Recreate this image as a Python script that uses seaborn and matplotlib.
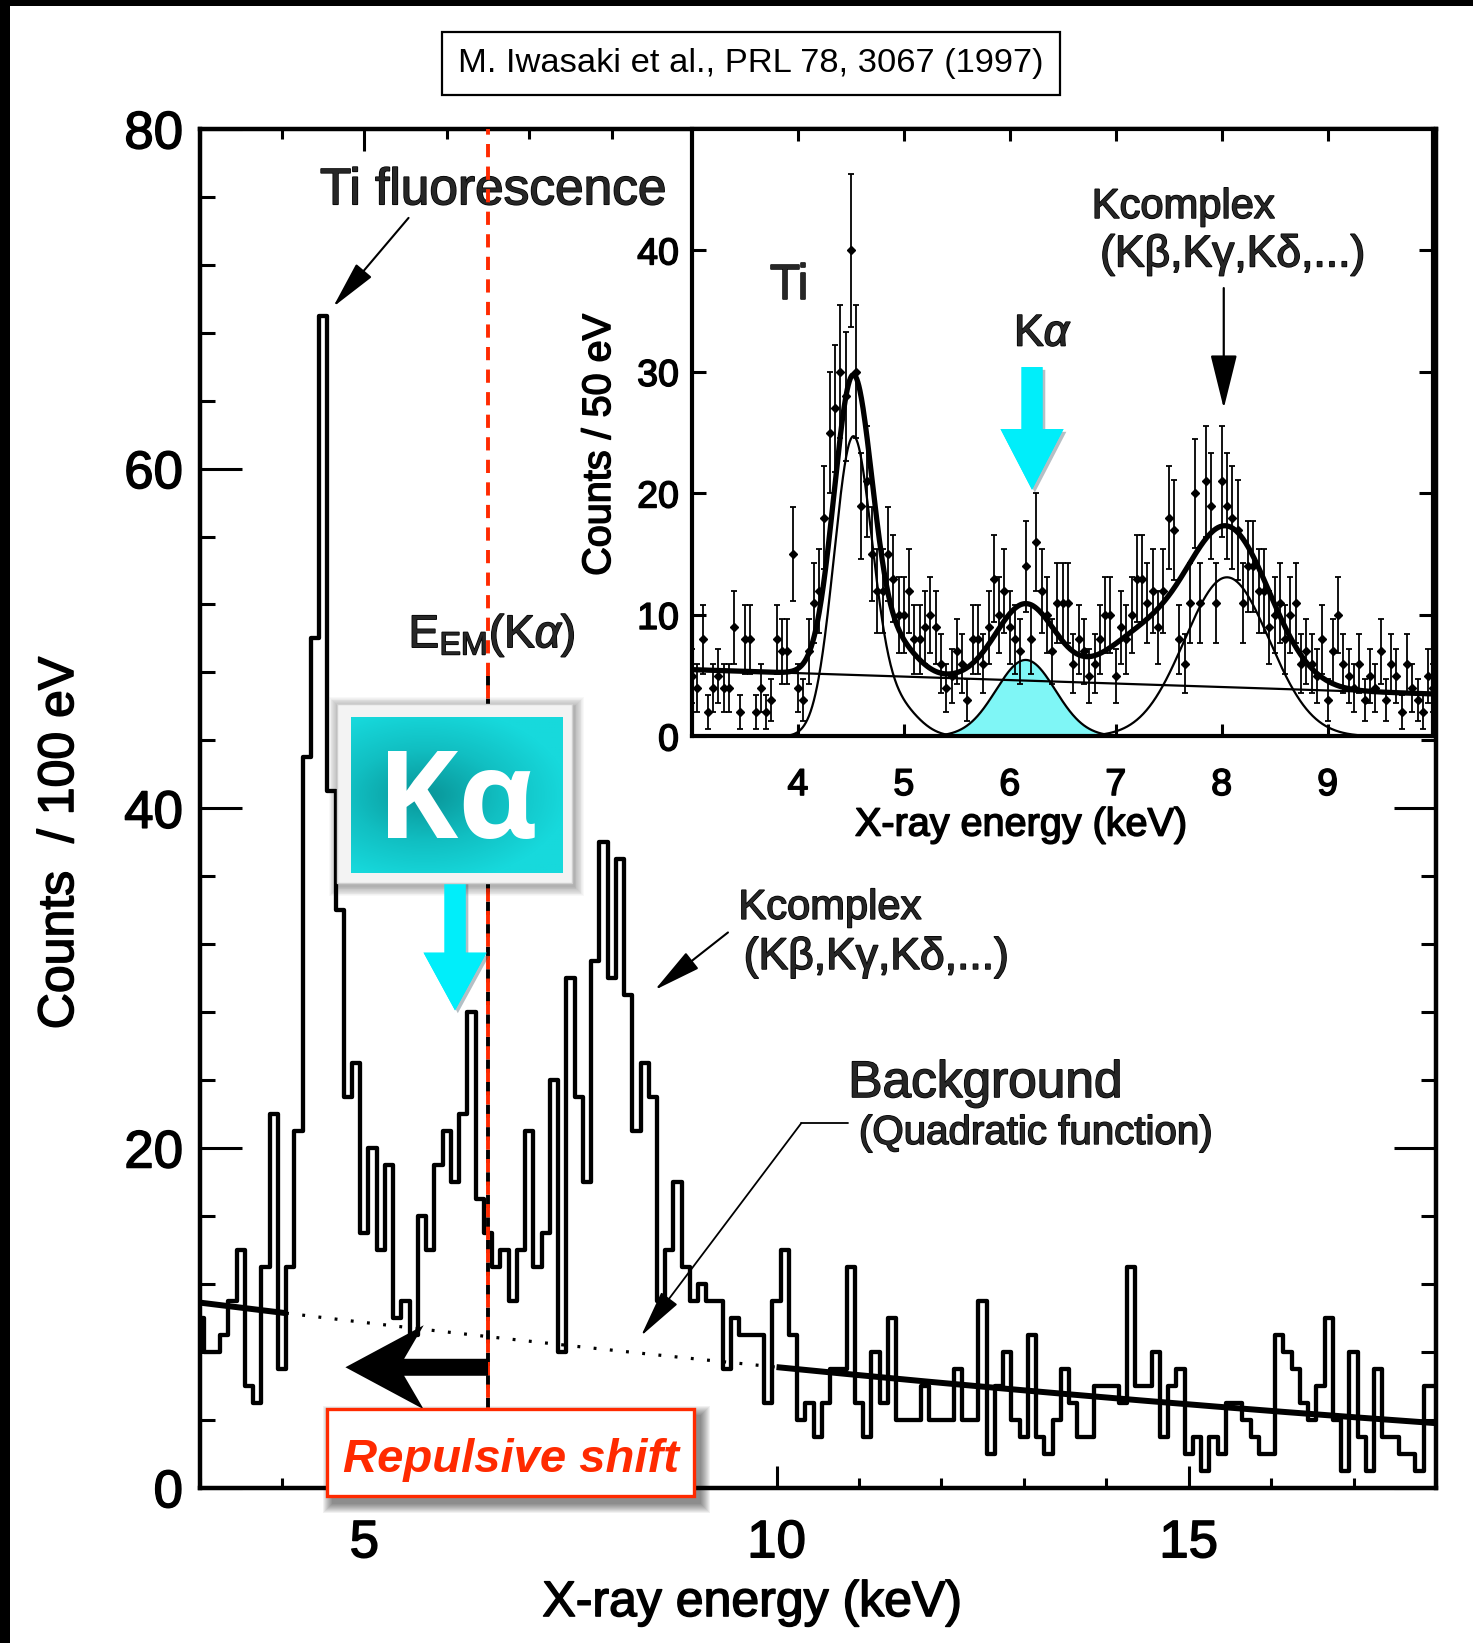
import numpy as np
import pandas as pd
import matplotlib
matplotlib.use("Agg")
import matplotlib.pyplot as plt
import seaborn as sns
from matplotlib.patches import Rectangle, FancyArrow
from matplotlib.colors import LinearSegmentedColormap
import matplotlib.patheffects as pe

# ------------------------------------------------------------------ data
# main spectrum: counts / 100 eV, bins centred on 3.0, 3.1, ... 18.0 keV
main_first_keV = 3.0
main_bin_keV = 0.1
main_counts = [
    10, 8, 8, 9, 11, 14, 6, 5, 13, 22,
    7, 13, 21, 43, 50, 69, 41, 34, 23, 25,
    15, 20, 14, 19, 10, 11, 9, 16, 14, 19,
    21, 18, 22, 28, 17, 15, 13, 14, 11, 14,
    21, 13, 15, 24, 8, 30, 23, 18, 31, 38,
    30, 37, 29, 21, 25, 23, 11, 14, 18, 13,
    11, 12, 11, 11, 7, 10, 9, 9, 9, 5,
    11, 14, 9, 4, 5, 3, 5, 7, 7, 13,
    5, 3, 8, 5, 10, 4, 4, 4, 6, 4,
    4, 4, 7, 4, 4, 11, 2, 6, 8, 4,
    3, 9, 3, 2, 4, 7, 5, 3, 3, 6,
    6, 6, 5, 13, 6, 6, 8, 3, 6, 7,
    2, 3, 1, 3, 2, 5, 5, 4, 3, 2,
    2, 9, 8, 7, 5, 4, 6, 10, 4, 1,
    8, 3, 1, 7, 3, 3, 2, 2, 1, 6,
    6,
]

# quadratic background of the main spectrum
bg_points_keV = [3.0, 10.0, 18.0]
bg_points_counts = [10.9, 7.1, 3.8]
bg_solid_ranges = [(3.0, 4.05), (10.0, 18.0)]
bg_dotted_range = (4.05, 10.0)

E_EM_keV = 6.5

# inset: counts / 50 eV, points at 3.00, 3.05, ... 10.00 keV
inset_first_keV = 3.0
inset_bin_keV = 0.05
inset_counts = [
    5, 4, 8, 2, 4, 5, 4, 4, 9, 2,
    8, 8, 2, 4, 2, 3, 8, 7, 7, 15,
    4, 3, 7, 11, 12, 18, 25, 27, 30, 28,
    40, 30, 19, 21, 15, 12, 12, 15, 13, 10,
    10, 12, 8, 8, 9, 10, 9, 6, 4, 5,
    7, 6, 3, 8, 8, 6, 9, 13, 10, 12,
    9, 8, 7, 14, 8, 16, 12, 10, 7, 11,
    11, 11, 6, 8, 7, 5, 6, 8, 10, 10,
    5, 9, 8, 10, 13, 13, 11, 12, 9, 12,
    18, 17, 8, 6, 11, 20, 11, 21, 19, 11,
    21, 19, 18, 17, 11, 14, 14, 12, 12, 9,
    10, 11, 8, 10, 11, 6, 7, 6, 5, 8,
    3, 7, 10, 6, 5, 4, 6, 3, 5, 4,
    7, 3, 6, 5, 2, 6, 4, 3, 2, 5,
    4,
]

# inset fit: linear background + gaussian lines (centre keV, height, sigma keV)
inset_bg_keV = [3.0, 10.0]
inset_bg_counts = [5.5, 3.5]
line_names = ["Ti", "Ti tail", "K alpha", "K shoulder", "K complex"]
line_centres = [4.52, 4.93, 6.15, 7.20, 8.05]
line_heights = [24.4, 2.5, 6.3, 3.3, 13.1]
line_sigmas = [0.18, 0.20, 0.28, 0.35, 0.40]
# thin component curves drawn in the inset (each a sum of the named lines)
thin_curves = [["Ti", "Ti tail"], ["K alpha"], ["K complex"]]

# ------------------------------------------------------------------ style
sns.set_theme(style="white")
plt.rcParams["font.family"] = ["Liberation Sans", "DejaVu Sans"]
plt.rcParams["mathtext.fontset"] = "custom"
plt.rcParams["mathtext.rm"] = "Liberation Sans"
plt.rcParams["mathtext.it"] = "Liberation Sans:italic"
plt.rcParams["mathtext.bf"] = "Liberation Sans:bold"

RED = "#ff2a00"
CYAN = "#00eefa"
HEAVY = [pe.withStroke(linewidth=1.1, foreground="black")]

fig = plt.figure(figsize=(14.73, 16.43), dpi=100)
fig.patch.set_facecolor("white")

# black frame bands at the left and top of the picture
fig.add_artist(Rectangle((0, 0), 10 / 1473, 1, transform=fig.transFigure,
                         fc="black", ec="none", zorder=0))
fig.add_artist(Rectangle((0, 1 - 6 / 1643), 1, 6 / 1643, transform=fig.transFigure,
                         fc="black", ec="none", zorder=0))

# ------------------------------------------------------------------ main axes
ax = fig.add_axes([0.13544, 0.09452, 0.83944, 0.82703])
ax.set_facecolor("white")

main_keV = main_first_keV + main_bin_keV * np.arange(len(main_counts))
df_main = pd.DataFrame({"energy": main_keV, "counts": main_counts})
sns.lineplot(data=df_main, x="energy", y="counts", drawstyle="steps-mid",
             color="black", lw=3.1, estimator=None, ax=ax, zorder=3, legend=False)

coef = np.polyfit(bg_points_keV, bg_points_counts, 2)
for a, b in bg_solid_ranges:
    xs = np.linspace(a, b, 200)
    ax.plot(xs, np.polyval(coef, xs), color="black", lw=4.3,
            solid_capstyle="butt", zorder=4)
xs = np.linspace(*bg_dotted_range, 300)
ax.plot(xs, np.polyval(coef, xs), color="black", lw=2.3,
        ls=(0, (0.9, 4.2)), zorder=4)

# E_EM line: black dashed (original) + red dashed overlay
ax.plot([E_EM_keV, E_EM_keV], [0, 48], color="black", lw=2.8,
        ls=(3.4, (3.4, 2.4)), zorder=4)
ax.plot([E_EM_keV, E_EM_keV], [0, 80], color=RED, lw=2.8,
        ls=(0, (3.4, 2.4)), zorder=4)

ax.set_xlim(3, 18)
ax.set_ylim(0, 80)
ax.set_xticks([5, 10, 15])
ax.set_xticks(np.arange(3, 19, 1), minor=True)
ax.set_yticks([0, 20, 40, 60, 80])
ax.set_yticks(np.arange(0, 81, 4), minor=True)
ax.tick_params(which="both", direction="in", top=True, right=True,
               bottom=True, left=True, width=2.2, color="black",
               labelcolor="black")
ax.tick_params(axis="x", which="major", length=16, pad=22, labelsize=38)
ax.tick_params(axis="x", which="minor", length=7.5)
ax.tick_params(axis="y", which="major", length=30, pad=12, labelsize=38)
ax.tick_params(axis="y", which="minor", length=11)
for s in ax.spines.values():
    s.set_color("black")
    s.set_linewidth(3.2)
for t in ax.get_xticklabels() + ax.get_yticklabels():
    t.set_path_effects(HEAVY)

ax.set_xlabel("X-ray energy (keV)", fontsize=36, color="black")
ax.xaxis.label.set_verticalalignment("center")
ax.xaxis.set_label_coords(0.447, -0.0849)
ax.set_ylabel("Counts  / 100 eV", fontsize=36, color="black")
ax.yaxis.label.set_verticalalignment("center")
ax.yaxis.set_label_coords(-0.1128, 0.4745)
ax.xaxis.label.set_path_effects(HEAVY)
ax.yaxis.label.set_path_effects(HEAVY)

arrow_kw = dict(arrowstyle="-|>,head_length=1.5,head_width=0.32", lw=1.5,
                color="black", mutation_scale=20, shrinkA=0, shrinkB=0)

# annotations in the main panel
ax.text(4.461, 75.56, "Ti fluorescence", fontsize=37, ha="left", va="baseline",
        path_effects=HEAVY)
ax.annotate("", xy=(4.621, 69.52), xytext=(5.536, 74.76), arrowprops=arrow_kw,
            zorder=6)

ax.text(5.536, 49.47, r"E$_{\mathrm{EM}}$(K$\alpha$)", fontsize=33,
        ha="left", va="baseline", zorder=6, path_effects=HEAVY)

ax.text(9.538, 33.49, "Kcomplex", fontsize=30, ha="left", va="baseline",
        path_effects=HEAVY)
ax.text(9.602, 30.54, "(Kβ,Kγ,Kδ,...)", fontsize=32, ha="left", va="baseline",
        path_effects=HEAVY)
ax.annotate("", xy=(8.522, 29.30), xytext=(9.411, 32.69), arrowprops=arrow_kw,
            zorder=6)

ax.text(10.87, 23.0, "Background", fontsize=37, ha="left", va="baseline",
        path_effects=HEAVY)
ax.text(11.0, 20.24, "(Quadratic function)", fontsize=29, ha="left",
        va="baseline", path_effects=HEAVY)
ax.plot([10.87, 10.30], [21.46, 21.46], color="black", lw=1.3, zorder=6)
ax.annotate("", xy=(8.357, 8.94), xytext=(10.30, 21.46),
            arrowprops=dict(arrow_kw, lw=1.3), zorder=6)


def soft_shadow(axis, x0, y0, x1, y1, sx, sy, ox, oy, n=12, alpha=0.45, z=5):
    for k in range(n):
        f = (k + 1) / n
        axis.add_patch(Rectangle((x0 + ox - sx * f, y0 + oy - sy * f),
                                 (x1 - x0) + 2 * sx * f, (y1 - y0) + 2 * sy * f,
                                 fc="black", ec="none", alpha=alpha / n,
                                 zorder=z, clip_on=False))


PX = 1 / 82.46   # keV per pixel (main)
PY = 1 / 16.985  # counts per pixel (main)

# big K-alpha badge
fx0, fy0, fx1, fy1 = 4.667, 35.60, 7.518, 46.14
soft_shadow(ax, fx0, fy0, fx1, fy1, 10 * PX, 10 * PY, 2 * PX, -3 * PY,
            alpha=0.35, z=6)
ax.add_patch(Rectangle((fx0, fy0), fx1 - fx0, fy1 - fy0, fc="#f3f3f3",
                       ec="#d0d0d0", lw=1.0, zorder=7))
gx, gy = np.meshgrid(np.linspace(0, 1, 220), np.linspace(0, 1, 160))
rr = np.sqrt(((gx - 0.35) / 0.9) ** 2 + ((gy - 0.5) / 0.75) ** 2)
teal = LinearSegmentedColormap.from_list("teal", ["#0a9a9d", "#11bfc2", "#17d9dc"])
ax.imshow(rr, extent=[4.837, 7.408, 36.19, 45.32], origin="lower",
          cmap=teal, vmin=0.05, vmax=0.75, aspect="auto", zorder=8,
          interpolation="bilinear")
ax.text(6.13, 38.24, "Kα", fontsize=88, color="white", fontweight="bold",
        family=["Open Sans", "DejaVu Sans"], ha="center", va="baseline", zorder=9)

# cyan arrow under the badge
arr = FancyArrow(6.10, 36.0, 0, -(36.0 - 28.1), width=0.255, head_width=0.764,
                 head_length=3.4, length_includes_head=True, fc=CYAN, ec="none",
                 zorder=6)
arr.set_path_effects([pe.withSimplePatchShadow(offset=(2, -2), shadow_rgbFace="#2a4a5a",
                                               alpha=0.35), pe.Normal()])
ax.add_patch(arr)

# black "repulsive shift" arrow
ax.add_patch(FancyArrow(E_EM_keV, 7.09, 4.77 - E_EM_keV, 0, width=1.0,
                        head_width=4.95, head_length=0.95, overhang=0.25,
                        length_includes_head=True, fc="black", ec="none", zorder=6))

# "Repulsive shift" box
rx0, ry0, rx1, ry1 = 4.547, -0.49, 9.004, 4.61
soft_shadow(ax, rx0, ry0, rx1, ry1, 10 * PX, 10 * PY, 6 * PX, -7 * PY, n=10,
            alpha=0.55, z=9)
ax.add_patch(Rectangle((rx0, ry0), rx1 - rx0, ry1 - ry0, fc="white", ec=RED,
                       lw=2.4, zorder=10, clip_on=False))
ax.text((rx0 + rx1) / 2, 0.92, "Repulsive shift", fontsize=34, color=RED,
        fontweight="bold", fontstyle="italic", ha="center", va="baseline",
        zorder=11, clip_on=False)

# ------------------------------------------------------------------ inset
ax_in = fig.add_axes([0.46979, 0.55174, 0.50339, 0.36981])
ax_in.set_facecolor("white")

inset_keV = inset_first_keV + inset_bin_keV * np.arange(len(inset_counts))
inset_counts_arr = np.array(inset_counts, dtype=float)

xf = np.linspace(3, 10, 1401)
bg_coef = np.polyfit(inset_bg_keV, inset_bg_counts, 1)
comps = {n: h * np.exp(-0.5 * ((xf - c) / s) ** 2)
         for n, c, h, s in zip(line_names, line_centres, line_heights, line_sigmas)}
total = np.polyval(bg_coef, xf) + sum(comps.values())

ax_in.fill_between(xf, 0, comps["K alpha"], color="#7ff6f6", lw=0, zorder=2)
for group in thin_curves:
    sns.lineplot(x=xf, y=sum(comps[n] for n in group), color="black", lw=1.6,
                 ax=ax_in, estimator=None, zorder=3, legend=False)
ax_in.plot(inset_bg_keV, inset_bg_counts, color="black", lw=1.6, zorder=3)
ax_in.errorbar(inset_keV, inset_counts_arr, yerr=np.sqrt(inset_counts_arr),
               fmt="D", ms=4.4, color="black", ecolor="black", elinewidth=1.3,
               capsize=2.0, capthick=1.3, zorder=4)
sns.lineplot(x=xf, y=total, color="black", lw=3.8, ax=ax_in, estimator=None,
             zorder=5, legend=False)

ax_in.set_xlim(3, 10)
ax_in.set_ylim(0, 50)
ax_in.set_xticks(np.arange(4, 10, 1))
ax_in.set_yticks([0, 10, 20, 30, 40])
ax_in.tick_params(which="both", direction="in", top=True, right=True,
                  bottom=True, left=True, width=2.2, color="black",
                  labelcolor="black", labelsize=27)
ax_in.tick_params(axis="x", length=8.5, pad=22)
ax_in.tick_params(axis="y", length=10, pad=9.4)
for s in ax_in.spines.values():
    s.set_color("black")
    s.set_linewidth(3.0)
for t in ax_in.get_xticklabels() + ax_in.get_yticklabels():
    t.set_path_effects(HEAVY)
ax_in.set_xlabel("X-ray energy (keV)", fontsize=28.5, color="black")
ax_in.xaxis.label.set_verticalalignment("center")
ax_in.xaxis.set_label_coords(0.444, -0.145)
ax_in.set_ylabel("Counts / 50 eV", fontsize=28.5, color="black")
ax_in.yaxis.label.set_verticalalignment("center")
ax_in.yaxis.set_label_coords(-0.1254, 0.48)
ax_in.xaxis.label.set_path_effects(HEAVY)
ax_in.yaxis.label.set_path_effects(HEAVY)

ax_in.text(3.737, 36.04, "Ti", fontsize=35, ha="left", va="baseline",
           path_effects=HEAVY)
ax_in.text(6.04, 32.16, r"K$\alpha$", fontsize=32, ha="left", va="baseline",
           path_effects=HEAVY)
ax_in.text(6.774, 42.67, "Kcomplex", fontsize=30, ha="left", va="baseline",
           path_effects=HEAVY)
ax_in.text(6.853, 38.68, "(Kβ,Kγ,Kδ,...)", fontsize=32, ha="left", va="baseline",
           path_effects=HEAVY)
ax_in.annotate("", xy=(8.02, 27.0), xytext=(8.02, 36.9),
               arrowprops=dict(arrowstyle="-|>,head_length=1.7,head_width=0.42",
                               lw=1.6, color="black", mutation_scale=20,
                               shrinkA=0, shrinkB=0), zorder=6)
carr = FancyArrow(6.21, 30.4, 0, -10.1, width=0.198, head_width=0.595,
                  head_length=5.0, length_includes_head=True, fc=CYAN,
                  ec="none", zorder=6)
carr.set_path_effects([pe.withSimplePatchShadow(offset=(2, -2), shadow_rgbFace="#2a4a5a",
                                                alpha=0.35), pe.Normal()])
ax_in.add_patch(carr)

# ------------------------------------------------------------------ reference box
fig.text(751 / 1473, 1 - 63.5 / 1643, "M. Iwasaki et al., PRL 78, 3067 (1997)",
         fontsize=24.8, ha="center", va="center", color="black",
         bbox=dict(boxstyle="square,pad=0.47", fc="white", ec="black", lw=1.6))

fig.savefig("out.png", dpi=100, facecolor="white")
